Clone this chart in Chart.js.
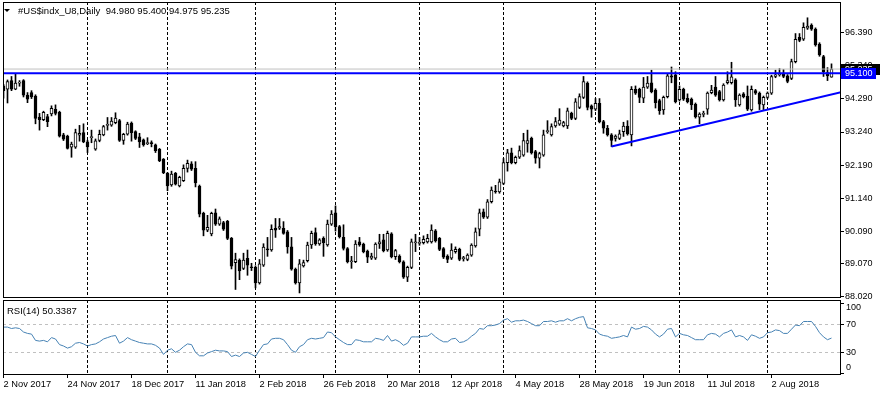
<!DOCTYPE html>
<html>
<head>
<meta charset="utf-8">
<title>#US$indx_U8, Daily</title>
<script src="https://cdn.jsdelivr.net/npm/chart.js"></script>
<style>
  html, body { margin: 0; padding: 0; background: #fff; }
  #wrap { position: relative; width: 880px; height: 395px; overflow: hidden; }
  #priceChart { position: absolute; left: 0; top: 0; }
  #rsiChart { position: absolute; left: 0; top: 299px; }
</style>
</head>
<body>
<div id="wrap">
  <canvas id="priceChart" width="880" height="299"></canvas>
  <canvas id="rsiChart" width="880" height="96"></canvas>
</div>
<script>
// Daily bars, 2 Nov 2017 .. 23 Aug 2018 (bar index = position on the time axis)
const opens = [
  94.70, 94.60, 94.87, 94.60, 94.79, 94.87, 94.41, 94.49, 94.38, 93.71,
  93.63, 93.73, 93.81, 93.96, 93.86, 93.15, 93.11, 92.76, 92.76, 93.14,
  93.22, 92.93, 93.06, 92.70, 92.97, 93.15, 93.45, 93.46, 93.54, 93.60,
  92.97, 93.17, 93.52, 93.25, 93.09, 92.99, 92.87, 92.88, 92.83, 92.69,
  92.38, 91.93, 91.56, 91.93, 91.53, 91.70, 92.09, 92.23, 92.09, 91.53,
  90.66, 90.13, 90.01, 90.68, 90.32, 90.37, 90.41, 89.87, 89.10, 89.18,
  88.92, 89.24, 88.96, 88.95, 88.46, 89.02, 89.54, 89.50, 90.19, 90.19,
  90.19, 90.08, 89.60, 88.89, 88.46, 89.00, 89.16, 89.66, 90.05, 89.69,
  89.87, 89.66, 90.32, 90.68, 90.24, 89.90, 89.55, 89.13, 89.13, 89.76,
  89.69, 89.47, 89.24, 89.24, 89.69, 89.82, 89.50, 90.01, 89.29, 89.31,
  89.13, 88.64, 88.95, 89.73, 89.71, 89.73, 89.76, 89.76, 90.11, 89.87,
  89.55, 89.31, 89.24, 89.45, 89.52, 89.23, 89.20, 89.34, 89.63, 90.16,
  90.71, 90.54, 91.03, 91.37, 91.34, 91.61, 92.27, 92.58, 92.27, 92.44,
  92.51, 92.88, 93.04, 92.62, 92.41, 92.51, 93.25, 93.15, 93.43, 93.49,
  93.43, 93.43, 93.83, 93.67, 94.02, 94.34, 94.79, 94.07, 93.96, 94.15,
  93.57, 93.36, 93.15, 93.04, 93.04, 93.25, 93.43, 93.15, 94.59, 94.59,
  94.31, 94.66, 94.80, 94.57, 94.24, 93.94, 94.36, 95.02, 95.05, 94.26,
  94.59, 94.31, 94.28, 94.12, 93.71, 93.80, 93.96, 94.49, 94.66, 94.52,
  94.26, 94.80, 94.80, 94.89, 94.10, 94.45, 94.38, 93.94, 94.55, 94.47,
  94.10, 94.34, 94.47, 95.00, 95.05, 95.10, 95.02, 94.94, 95.47, 96.24,
  96.18, 96.53, 96.63, 96.50, 96.03, 95.63, 95.12, 94.98
];
const highs = [
  94.75, 94.89, 95.00, 95.07, 94.87, 94.90, 94.49, 94.55, 94.42, 93.83,
  93.90, 93.80, 94.07, 94.10, 93.90, 93.20, 93.14, 92.92, 93.33, 93.45,
  93.50, 92.98, 93.30, 93.02, 93.30, 93.45, 93.70, 93.70, 93.85, 93.64,
  93.20, 93.55, 93.56, 93.28, 93.20, 93.02, 93.06, 92.96, 92.86, 92.72,
  92.40, 91.96, 92.00, 91.96, 91.84, 92.20, 92.35, 92.30, 92.30, 91.56,
  90.70, 90.60, 90.70, 90.80, 90.55, 90.41, 90.44, 89.90, 89.40, 89.22,
  89.40, 89.50, 89.08, 89.00, 89.20, 89.70, 89.90, 90.30, 90.50, 90.50,
  90.40, 90.12, 89.90, 88.93, 89.20, 89.18, 89.75, 90.10, 90.20, 89.86,
  89.92, 90.45, 90.75, 90.90, 90.28, 90.30, 89.58, 89.30, 89.80, 89.90,
  89.72, 89.50, 89.40, 89.73, 90.00, 90.00, 90.10, 90.05, 89.52, 89.35,
  89.16, 88.99, 89.85, 90.00, 89.90, 89.95, 90.00, 90.30, 90.15, 89.90,
  89.58, 89.35, 89.70, 89.60, 89.56, 89.30, 89.38, 89.70, 90.20, 90.80,
  90.80, 91.10, 91.50, 91.55, 91.75, 92.40, 92.69, 92.73, 92.48, 92.80,
  93.20, 93.30, 93.08, 92.66, 92.60, 93.30, 93.60, 93.50, 93.70, 93.98,
  93.58, 94.00, 93.87, 94.30, 94.45, 95.00, 94.83, 94.10, 94.30, 94.30,
  93.61, 93.45, 93.19, 93.15, 93.30, 93.55, 93.60, 94.68, 94.70, 94.63,
  94.97, 95.00, 95.20, 94.61, 94.28, 94.38, 95.10, 95.30, 95.15, 94.70,
  94.63, 94.45, 94.32, 94.16, 93.85, 93.90, 94.51, 94.72, 95.00, 94.56,
  94.77, 95.15, 95.45, 94.93, 94.45, 94.49, 94.70, 94.70, 94.59, 94.51,
  94.38, 94.51, 95.04, 95.20, 95.25, 95.22, 95.06, 95.55, 96.36, 96.36,
  96.70, 96.86, 96.67, 96.54, 96.07, 95.67, 95.28, 95.40
];
const lows = [
  94.31, 94.16, 94.55, 94.58, 94.69, 94.35, 94.17, 94.30, 93.50, 93.30,
  93.60, 93.41, 93.75, 93.78, 93.08, 92.97, 92.70, 92.44, 92.72, 92.95,
  92.90, 92.59, 92.90, 92.66, 92.93, 93.12, 93.30, 93.42, 93.50, 92.94,
  92.85, 93.14, 92.95, 93.00, 92.75, 92.79, 92.84, 92.77, 92.59, 92.30,
  91.92, 91.38, 91.52, 91.56, 91.50, 91.67, 91.97, 92.02, 91.50, 90.55,
  89.95, 90.08, 89.95, 90.28, 90.28, 90.12, 89.83, 88.90, 88.25, 88.56,
  88.88, 88.70, 88.85, 88.30, 88.42, 88.98, 89.30, 89.46, 89.90, 90.15,
  90.00, 89.40, 88.86, 88.42, 88.14, 88.96, 89.12, 89.55, 89.65, 89.65,
  89.30, 89.62, 90.28, 90.10, 89.88, 89.50, 89.09, 88.92, 89.10, 89.62,
  89.41, 89.10, 89.20, 89.20, 89.55, 89.44, 89.46, 89.25, 89.20, 89.09,
  88.60, 88.50, 88.91, 89.45, 89.65, 89.69, 89.72, 89.72, 89.75, 89.48,
  89.23, 89.10, 89.20, 89.40, 89.16, 89.15, 89.16, 89.30, 89.59, 89.95,
  90.50, 90.50, 90.99, 91.30, 91.30, 91.57, 92.00, 92.23, 92.23, 92.40,
  92.47, 92.60, 92.54, 92.25, 92.10, 92.47, 93.20, 93.11, 93.39, 93.45,
  93.40, 93.35, 93.63, 93.63, 93.98, 94.30, 93.94, 93.71, 93.92, 93.53,
  93.20, 93.11, 92.78, 92.95, 93.00, 93.10, 93.14, 92.80, 94.43, 94.17,
  94.17, 94.62, 94.48, 94.00, 93.80, 93.80, 94.32, 94.80, 94.16, 94.22,
  94.24, 94.16, 93.95, 93.68, 93.50, 93.72, 93.80, 94.45, 94.37, 94.22,
  94.22, 94.76, 94.76, 94.05, 94.06, 94.32, 93.92, 93.90, 94.43, 93.95,
  93.95, 94.30, 94.43, 94.96, 95.01, 94.96, 94.80, 94.90, 95.43, 96.10,
  96.14, 96.49, 96.46, 95.96, 95.64, 95.00, 94.87, 94.975
];
const closes = [
  94.55, 94.84, 94.60, 94.79, 94.80, 94.41, 94.28, 94.35, 93.67, 93.63,
  93.86, 93.57, 93.99, 93.83, 93.11, 93.01, 92.72, 92.86, 93.22, 93.20,
  92.93, 92.77, 93.07, 92.96, 93.17, 93.41, 93.47, 93.59, 93.68, 92.97,
  93.17, 93.49, 93.22, 93.04, 92.93, 92.83, 92.89, 92.87, 92.65, 92.33,
  91.95, 91.53, 91.91, 91.59, 91.80, 92.09, 92.25, 92.06, 91.63, 90.64,
  90.13, 90.22, 90.66, 90.32, 90.49, 90.16, 89.87, 88.99, 89.20, 88.84,
  89.18, 89.02, 88.94, 88.46, 89.06, 89.59, 89.50, 90.16, 90.13, 90.24,
  90.03, 89.60, 88.89, 88.46, 89.06, 89.10, 89.66, 90.03, 89.69, 89.82,
  89.73, 90.32, 90.64, 90.24, 89.92, 89.55, 89.13, 89.14, 89.69, 89.66,
  89.45, 89.27, 89.31, 89.69, 89.76, 89.48, 90.03, 89.29, 89.48, 89.13,
  88.64, 88.95, 89.76, 89.74, 89.72, 89.84, 89.87, 90.13, 89.79, 89.52,
  89.27, 89.20, 89.50, 89.52, 89.20, 89.24, 89.34, 89.66, 90.08, 90.68,
  90.54, 91.03, 91.40, 91.34, 91.66, 92.27, 92.58, 92.27, 92.44, 92.65,
  92.97, 92.97, 92.58, 92.41, 92.56, 93.15, 93.28, 93.41, 93.57, 93.62,
  93.54, 93.91, 93.67, 94.20, 94.36, 94.84, 94.02, 93.96, 94.15, 93.57,
  93.36, 93.15, 92.97, 93.11, 93.18, 93.43, 93.18, 94.59, 94.47, 94.34,
  94.66, 94.79, 94.52, 94.17, 93.92, 94.34, 95.02, 94.98, 94.20, 94.59,
  94.28, 94.20, 94.10, 93.72, 93.81, 93.82, 94.47, 94.57, 94.41, 94.26,
  94.73, 94.87, 94.99, 94.26, 94.41, 94.36, 93.96, 94.59, 94.47, 94.12,
  94.34, 94.47, 95.00, 95.05, 95.10, 95.00, 94.84, 95.47, 96.18, 96.14,
  96.56, 96.60, 96.50, 96.00, 95.68, 95.15, 95.02, 95.235
];
const rsiValues = [
  66, 66, 64, 65, 64, 59, 57, 56, 47, 46,
  47, 45, 51, 49, 41, 39, 36, 38, 43, 44,
  42, 39, 41, 42, 45, 49, 51, 53, 54, 43,
  46, 51, 48, 46, 44, 43, 42, 42, 40, 36,
  27, 33, 35, 30, 33, 38, 42, 41, 30, 25,
  25, 29, 31, 33, 32, 32, 31, 24, 26, 24,
  29, 30, 27, 24, 33, 41, 42, 49, 50, 50,
  48, 41, 33, 30, 38, 41, 48, 50, 49, 50,
  51, 59, 58, 52, 48, 44, 41, 41, 48, 47,
  45, 45, 45, 50, 49, 47, 54, 46, 48, 45,
  40, 43, 52, 52, 52, 53, 53, 57, 52, 48,
  45, 45, 49, 50, 44, 45, 48, 53, 57, 64,
  63, 68, 68, 69, 71, 76, 78, 73, 75, 75,
  76, 74, 71, 68, 68, 74, 74, 75, 73, 75,
  75, 78, 75, 78, 80, 81, 65, 64, 62, 56,
  54, 53, 50, 51, 52, 54, 52, 66, 63, 64,
  67, 66, 62, 56, 52, 56, 63, 64, 52, 57,
  55, 54, 51, 48, 48, 48, 55, 57, 56, 52,
  57, 59, 62, 52, 54, 52, 47, 55, 53, 50,
  52, 58, 59, 62, 61, 57, 57, 63, 69, 68,
  74, 74, 74, 67, 58, 52, 48, 50.3387
];

// time axis labels and month separators (bar indices)
const dateLabels = ['2 Nov 2017', '24 Nov 2017', '18 Dec 2017', '11 Jan 2018', '2 Feb 2018',
  '26 Feb 2018', '20 Mar 2018', '12 Apr 2018', '4 May 2018', '28 May 2018',
  '19 Jun 2018', '11 Jul 2018', '2 Aug 2018'];
const dateLabelBars = [0, 16, 32, 48, 64, 80, 96, 112, 128, 144, 160, 176, 192];
const monthStartBars = [21, 41, 63, 83, 104, 125, 148, 169, 191];

// price scale
const priceTicks = [96.39, 95.34, 94.29, 93.24, 92.19, 91.14, 90.09, 89.07, 88.02];
const rsiTicks = [100, 70, 30, 0];
const rsiLevels = [70, 30];

// drawn objects
const supportLevel = 95.10;
const trendBars = [152, 209.375];
const trendPrices = [92.78, 94.50];

const X_MIN = -0.125, X_MAX = 209.375;
const FONT = "'Liberation Sans', Arial, sans-serif";
Chart.defaults.font.family = FONT;
Chart.defaults.font.size = 9;
Chart.defaults.color = '#000';

const lastIdx = closes.length - 1;
const lastPrice = closes[lastIdx];
const titleText = '#US$indx_U8,Daily  ' + [opens[lastIdx], highs[lastIdx], lows[lastIdx], closes[lastIdx]]
  .map(v => v.toFixed(3)).join(' ');

const monthGrid = {
  id: 'monthGrid',
  beforeDatasetsDraw(chart) {
    const { ctx, chartArea, scales } = chart;
    ctx.save();
    ctx.strokeStyle = '#000';
    ctx.lineWidth = 1;
    ctx.setLineDash([3, 2]);
    monthStartBars.forEach(b => {
      const x = Math.round(scales.x.getPixelForValue(b) - 0.5) + 0.5;
      ctx.beginPath();
      ctx.moveTo(x, chartArea.top);
      ctx.lineTo(x, chartArea.bottom);
      ctx.stroke();
    });
    ctx.restore();
  }
};

const frame = {
  id: 'frame',
  afterDraw(chart) {
    const { ctx, chartArea: a } = chart;
    ctx.save();
    ctx.strokeStyle = '#000';
    ctx.lineWidth = 1;
    ctx.strokeRect(a.left + 0.5, a.top + 0.5, a.right - a.left - 1, a.bottom - a.top - 1);
    ctx.restore();
  }
};

const priceDecor = {
  id: 'priceDecor',
  afterDraw(chart) {
    const { ctx, chartArea: a, scales } = chart;
    ctx.save();
    // header
    ctx.fillStyle = '#000';
    ctx.beginPath();
    ctx.moveTo(4, 9); ctx.lineTo(10, 9); ctx.lineTo(7, 12); ctx.closePath();
    ctx.fill();
    ctx.font = '9.5px ' + FONT;
    ctx.textBaseline = 'middle';
    ctx.fillText(titleText, 18, 11);
    // price boxes on the right axis
    ctx.font = '9px ' + FONT;
    const box = (price, bg, w) => {
      const y = scales.y.getPixelForValue(price);
      ctx.fillStyle = bg;
      ctx.fillRect(a.right, Math.round(y) - 5, w, 11);
      ctx.fillStyle = '#fff';
      ctx.fillText(price.toFixed(3), a.right + 4, y + 0.5);
    };
    box(lastPrice, '#000', 40);
    box(supportLevel, '#0000ff', 35);
    ctx.restore();
  }
};

const rsiDecor = {
  id: 'rsiDecor',
  beforeDatasetsDraw(chart) {
    const { ctx, chartArea: a, scales } = chart;
    ctx.save();
    ctx.strokeStyle = '#c0c0c0';
    ctx.lineWidth = 1;
    ctx.setLineDash([3, 3]);
    rsiLevels.forEach(v => {
      const y = Math.round(scales.y.getPixelForValue(v) - 0.5) + 0.5;
      ctx.beginPath();
      ctx.moveTo(a.left, y);
      ctx.lineTo(a.right, y);
      ctx.stroke();
    });
    ctx.restore();
  },
  afterDraw(chart) {
    const { ctx, chartArea: a, scales } = chart;
    ctx.save();
    ctx.fillStyle = '#000';
    ctx.font = '9.5px ' + FONT;
    ctx.textBaseline = 'middle';
    ctx.fillText('RSI(14) ' + rsiValues[rsiValues.length - 1].toFixed(4), 7, 12);
    ctx.font = '9px ' + FONT;
    rsiTicks.forEach(v => {
      let y = scales.y.getPixelForValue(v);
      y = Math.min(Math.max(y, a.top + 8), a.bottom - 7);
      ctx.fillText(String(v), a.right + 5, y);
    });
    ctx.restore();
  }
};

new Chart(document.getElementById('priceChart'), {
  type: 'bar',
  data: {
    datasets: [
      {
        type: 'line',
        data: [{ x: X_MIN, y: lastPrice }, { x: X_MAX, y: lastPrice }],
        borderColor: '#c0c0c0',
        borderWidth: 1,
        pointRadius: 0,
        order: 0
      },
      {
        type: 'line',
        data: [{ x: X_MIN, y: supportLevel }, { x: X_MAX, y: supportLevel }],
        borderColor: '#0000ff',
        borderWidth: 2,
        pointRadius: 0,
        order: 0
      },
      {
        type: 'line',
        data: trendBars.map((b, i) => ({ x: b, y: trendPrices[i] })),
        borderColor: '#0000ff',
        borderWidth: 2,
        pointRadius: 0,
        order: 0
      },
      {
        // candle bodies
        data: opens.map((o, i) => ({ x: i, y: [o, closes[i]] })),
        backgroundColor: closes.map((c, i) => (c > opens[i] ? '#ffffff' : '#000000')),
        borderColor: '#000',
        borderWidth: 1,
        borderSkipped: false,
        barThickness: 3,
        minBarLength: 1,
        grouped: false,
        order: 1
      },
      {
        // wicks
        data: highs.map((h, i) => ({ x: i, y: [lows[i], h] })),
        backgroundColor: '#000',
        borderWidth: 0,
        barThickness: 1,
        grouped: false,
        order: 2
      }
    ]
  },
  options: {
    responsive: false,
    animation: false,
    events: [],
    layout: { padding: { left: 3, top: 2, right: 0, bottom: 1 } },
    plugins: { legend: { display: false }, tooltip: { enabled: false } },
    scales: {
      x: {
        type: 'linear',
        display: false,
        offset: false,
        min: X_MIN,
        max: X_MAX,
        grid: { offset: false }
      },
      y: {
        position: 'right',
        min: 87.98,
        max: 97.36,
        afterBuildTicks: (scale) => { scale.ticks = priceTicks.map(v => ({ value: v })); },
        afterFit: (scale) => { scale.width = 39; scale.paddingTop = 0; scale.paddingBottom = 0; },
        ticks: { padding: 1, callback: (v) => Number(v).toFixed(3) },
        grid: { drawOnChartArea: false, drawTicks: true, tickLength: 3, tickColor: '#000' },
        border: { display: false }
      }
    }
  },
  plugins: [monthGrid, frame, priceDecor]
});

new Chart(document.getElementById('rsiChart'), {
  type: 'line',
  data: {
    datasets: [{
      data: rsiValues.map((v, i) => ({ x: i, y: v })),
      borderColor: '#4682b4',
      borderWidth: 1,
      pointRadius: 0,
      tension: 0
    }]
  },
  options: {
    responsive: false,
    animation: false,
    events: [],
    layout: { padding: { left: 3, top: 1, right: 0, bottom: 0 } },
    plugins: { legend: { display: false }, tooltip: { enabled: false } },
    scales: {
      x: {
        type: 'linear',
        min: X_MIN,
        max: X_MAX,
        afterBuildTicks: (scale) => { scale.ticks = dateLabelBars.map(v => ({ value: v })); },
        afterFit: (scale) => { scale.height = 20; scale.paddingLeft = 0; scale.paddingRight = 0; },
        ticks: {
          align: 'start',
          maxRotation: 0,
          autoSkip: false,
          padding: 1,
          font: { size: 9.3 },
          callback: (v) => dateLabels[dateLabelBars.indexOf(Number(v))]
        },
        grid: { drawOnChartArea: false, drawTicks: true, tickLength: 3, tickColor: '#000' },
        border: { display: false }
      },
      y: {
        position: 'right',
        min: -2.4,
        max: 104.7,
        afterBuildTicks: (scale) => { scale.ticks = rsiTicks.map(v => ({ value: v })); },
        afterFit: (scale) => { scale.width = 39; scale.paddingTop = 0; scale.paddingBottom = 0; },
        ticks: { display: false },
        grid: { drawOnChartArea: false, drawTicks: true, tickLength: 3, tickColor: '#000' },
        border: { display: false }
      }
    }
  },
  plugins: [monthGrid, frame, rsiDecor]
});
</script>
</body>
</html>
